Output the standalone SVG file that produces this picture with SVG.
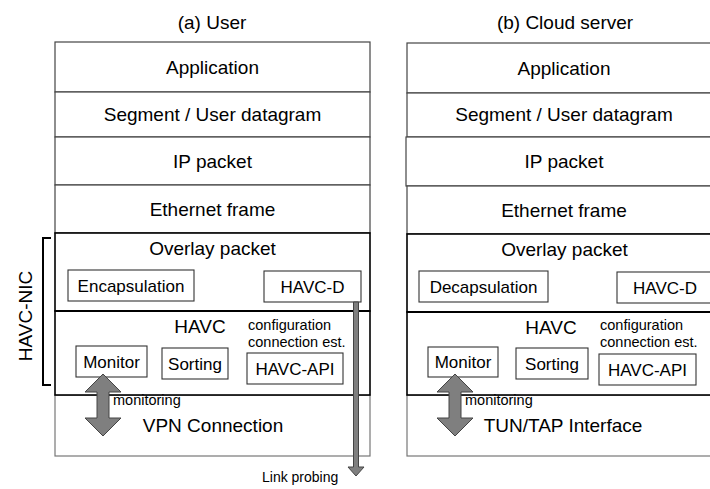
<svg xmlns="http://www.w3.org/2000/svg" width="710" height="489" viewBox="0 0 710 489">
<style>
text{font-family:"Liberation Sans",Arial,sans-serif;fill:#000}
.lg{font-size:19px;text-anchor:middle}
.md{font-size:17px;text-anchor:middle}
.sm{font-size:14.5px}
.row{fill:#fff;stroke:#444;stroke-width:1.2}
.low{fill:#fff;stroke:#777;stroke-width:1.2}
.sec{fill:#fff;stroke:#000;stroke-width:1.6}
.box{fill:#fff;stroke:#333;stroke-width:1.1}
.arr{fill:#7f7f7f;stroke:#444;stroke-width:1}
</style>
<rect width="710" height="489" fill="#fff"/>
<g id="user-stack">
  <text class="lg" x="212" y="29">(a) User</text>
  <g id="u-app"><rect class="row" x="55" y="42" width="315" height="50"/><text class="lg" x="212.5" y="74">Application</text></g>
  <g id="u-seg"><rect class="row" x="55" y="92" width="315" height="45"/><text class="lg" x="212.5" y="121">Segment / User datagram</text></g>
  <g id="u-ip"><rect class="row" x="55" y="137" width="315" height="48"/><text class="lg" x="212.5" y="168">IP packet</text></g>
  <g id="u-eth"><rect class="row" x="55" y="185" width="315" height="48"/><text class="lg" x="212.5" y="216">Ethernet frame</text></g>
  <g id="u-vpn"><rect class="low" x="55" y="395" width="315" height="61"/><text class="lg" x="213" y="432">VPN Connection</text></g>
  <g id="u-overlay"><rect class="sec" x="55" y="233" width="315" height="78"/><text class="lg" x="212.5" y="255">Overlay packet</text></g>
  <g id="u-havc"><rect class="sec" x="55" y="311" width="315" height="84"/><text class="lg" x="200" y="333">HAVC</text>
    <text class="sm" x="248" y="330">configuration</text><text class="sm" x="248" y="347">connection est.</text></g>
  <line x1="55" y1="311" x2="370" y2="311" stroke="#000" stroke-width="2.2"/>
  <g id="u-encap"><rect class="box" x="68" y="270" width="126" height="31"/><text class="md" x="131" y="292">Encapsulation</text></g>
  <g id="u-havcd"><rect class="box" x="264" y="271" width="97" height="31"/><text class="md" x="312.5" y="292.5">HAVC-D</text></g>
  <g id="u-monitor"><rect class="box" x="76" y="346" width="71" height="31"/><text class="md" x="111.5" y="367.5">Monitor</text></g>
  <g id="u-sorting"><rect class="box" x="162" y="348" width="66" height="31"/><text class="md" x="195" y="369.5">Sorting</text></g>
  <g id="u-api"><rect class="box" x="247" y="353" width="96" height="31"/><text class="md" x="295" y="374.5">HAVC-API</text></g>
  <g id="u-nic">
    <path d="M51 238 H43 V385 H51" fill="none" stroke="#000" stroke-width="2"/>
    <text class="lg" transform="translate(31.5 316) rotate(-90)" x="0" y="0">HAVC-NIC</text>
  </g>
</g>
<g id="server-stack">
  <text class="lg" x="565" y="29">(b) Cloud server</text>
  <g id="s-app"><rect class="row" x="407" y="43" width="314" height="50"/><text class="lg" x="564" y="75">Application</text></g>
  <g id="s-seg"><rect class="row" x="407" y="93" width="314" height="44"/><text class="lg" x="564" y="121">Segment / User datagram</text></g>
  <g id="s-ip"><rect class="row" x="406" y="137" width="315" height="49"/><text class="lg" x="564" y="168">IP packet</text></g>
  <g id="s-eth"><rect class="row" x="407" y="186" width="314" height="48"/><text class="lg" x="564" y="217">Ethernet frame</text></g>
  <g id="s-tun"><rect class="low" x="407" y="395" width="314" height="61"/><text class="lg" x="563" y="432">TUN/TAP Interface</text></g>
  <g id="s-overlay"><rect class="sec" x="407" y="234" width="314" height="78"/><text class="lg" x="564.5" y="256">Overlay packet</text></g>
  <g id="s-havc"><rect class="sec" x="407" y="312" width="314" height="83"/><text class="lg" x="551" y="334">HAVC</text>
    <text class="sm" x="600" y="330">configuration</text><text class="sm" x="600" y="347">connection est.</text></g>
  <line x1="407" y1="312" x2="721" y2="312" stroke="#000" stroke-width="2.2"/>
  <g id="s-decap"><rect class="box" x="419" y="271" width="129" height="31"/><text class="md" x="483.5" y="292.5">Decapsulation</text></g>
  <g id="s-havcd"><rect class="box" x="617" y="272" width="96" height="31"/><text class="md" x="665" y="293.5">HAVC-D</text></g>
  <g id="s-monitor"><rect class="box" x="428" y="347" width="70" height="30"/><text class="md" x="463" y="368">Monitor</text></g>
  <g id="s-sorting"><rect class="box" x="516" y="348" width="72" height="31"/><text class="md" x="552" y="369.5">Sorting</text></g>
  <g id="s-api"><rect class="box" x="599" y="354" width="97" height="31"/><text class="md" x="647.5" y="375.5">HAVC-API</text></g>
</g>
<g id="connectors">
  <path class="arr" d="M103 374 L121 392 H109 V418 H121 L103 436 L85 418 H97 V392 H85 Z"/>
  <text class="sm" x="113" y="405" font-size="14">monitoring</text>
  <path class="arr" d="M455 374 L473 392 H461 V418 H473 L455 436 L437 418 H449 V392 H437 Z"/>
  <text class="sm" x="465" y="405" font-size="14">monitoring</text>
  <path class="arr" d="M353.5 302 H358.5 V467 H364 L356 476 L348 467 H353.5 Z"/>
  <text x="262" y="482" font-size="14">Link probing</text>
</g>
</svg>
